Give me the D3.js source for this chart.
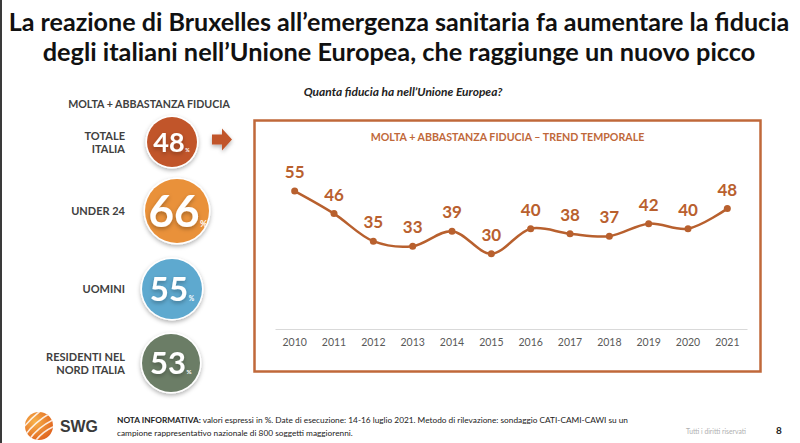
<!DOCTYPE html>
<html><head><meta charset="utf-8">
<script src="https://cdn.jsdelivr.net/npm/d3@7"></script>
<style>body{margin:0;background:#fff}svg{display:block}</style>
</head><body>
<svg id="c" width="800" height="443"></svg>
<script>
const years = ["2010","2011","2012","2013","2014","2015","2016","2017","2018","2019","2020","2021"];
const trust = [55,46,35,33,39,30,40,38,37,42,40,48];
const segments = [["TOTALE","ITALIA"],["UNDER 24"],["UOMINI"],["RESIDENTI NEL","NORD ITALIA"]];
const segValues = [48,66,55,53];
const segColors = ["#c1552a","#e9913a","#5ea9cf","#6b7d66"];
const titleLines = ["La reazione di Bruxelles all’emergenza sanitaria fa aumentare la fiducia","degli italiani nell’Unione Europea, che raggiunge un nuovo picco"];
const question = "Quanta fiducia ha nell’Unione Europea?";
const leftHeader = "MOLTA + ABBASTANZA FIDUCIA";
const chartTitle = "MOLTA + ABBASTANZA FIDUCIA – TREND TEMPORALE";
const noteBold = "NOTA INFORMATIVA:";
const noteLines = [" valori espressi in %. Date di esecuzione: 14-16 luglio 2021. Metodo di rilevazione: sondaggio CATI-CAMI-CAWI su un","campione rappresentativo nazionale di 800 soggetti maggiorenni."];

const F = "Lato, 'Open Sans', sans-serif";
const svg = d3.select("#c");
const defs = svg.append("defs");
const sh = defs.append("filter").attr("id","sh").attr("x","-30%").attr("y","-30%").attr("width","160%").attr("height","160%");
sh.append("feDropShadow").attr("dx",0).attr("dy",2).attr("stdDeviation",2).attr("flood-color","#000").attr("flood-opacity",0.3);

function fit(t, w){ const b=t.node().getComputedTextLength(); const fs=parseFloat(t.attr("font-size")); t.attr("font-size", fs*w/b); return t; }

// left dark edge
svg.append("rect").attr("x",0).attr("y",0).attr("width",2).attr("height",443).attr("fill","#3a3a3a");

// title
titleLines.forEach((s,i)=>{
  const t = svg.append("text").attr("x",399).attr("y",[31,61][i]).attr("text-anchor","middle")
    .attr("font-family",F).attr("font-weight",700).attr("font-size",24).attr("fill","#111").text(s);
  fit(t,[781,713][i]);
});

svg.append("text").attr("x",403).attr("y",96).attr("text-anchor","middle").attr("font-family",F)
  .attr("font-weight",700).attr("font-style","italic").attr("font-size",11).attr("fill","#222").text(question)
  .call(t=>fit(t,199));

svg.append("text").attr("x",149).attr("y",108).attr("text-anchor","middle").attr("font-family",F)
  .attr("font-weight",700).attr("font-size",11).attr("fill","#404040").text(leftHeader).call(t=>fit(t,162));

// bubbles
const bub = [{cx:172,cy:142,r:25,fs:27},{cx:177,cy:211,r:32,fs:44},{cx:172,cy:289,r:30,fs:33},{cx:171,cy:363,r:29,fs:31}];
segments.forEach((lines,i)=>{
  const b = bub[i];
  svg.append("circle").attr("cx",b.cx).attr("cy",b.cy).attr("r",b.r+1.5).attr("fill","#fff").attr("filter","url(#sh)");
  svg.append("circle").attr("cx",b.cx).attr("cy",b.cy).attr("r",b.r).attr("fill",segColors[i]);
  const t = svg.append("text").attr("x",b.cx-3).attr("y",b.cy+b.fs*0.36).attr("text-anchor","middle")
    .attr("font-family",F).attr("font-weight",700).attr("font-size",b.fs).attr("fill","#fff")
    .attr("filter","url(#sh)").text(segValues[i]);
  const w = t.node().getComputedTextLength();
  svg.append("text").attr("x",b.cx-3+w/2+0.5).attr("y",b.cy+b.fs*0.36).attr("font-family",F).attr("font-weight",700)
    .attr("font-size",Math.max(5,b.fs*0.2)).attr("fill","#fff").text("%");
  const n = lines.length;
  lines.forEach((s,j)=>{
    svg.append("text").attr("x",125).attr("y",b.cy+4-(n-1)*6.5+j*13.5).attr("text-anchor","end")
      .attr("font-family",F).attr("font-weight",700).attr("font-size",11).attr("fill","#404040").text(s);
  });
});

// arrow
svg.append("path").attr("d","M212,134.5 L222,134.5 L222,128.5 L232,139.5 L222,150.5 L222,144.5 L212,144.5 Z")
  .attr("fill","#c1552a").attr("filter","url(#sh)");

// box
svg.append("rect").attr("x",254.5).attr("y",120.5).attr("width",506).attr("height",251).attr("fill","#fff")
  .attr("stroke","#c0683a").attr("stroke-width",2.5);
svg.append("text").attr("x",507.5).attr("y",141).attr("text-anchor","middle").attr("font-family",F)
  .attr("font-weight",700).attr("font-size",11).attr("fill","#c0683a").text(chartTitle).call(t=>fit(t,274));

// chart
const x = d3.scaleBand().domain(years).range([275,747]).padding(0);
const y = d3.scaleLinear().domain([0,60]).range([329,178.5]);
const cx = d => x(d)+x.bandwidth()/2;
const axis = svg.append("g").attr("transform","translate(0,329)")
  .call(d3.axisBottom(x).tickSize(0).tickPadding(10));
axis.select(".domain").attr("stroke","#d9d9d9").attr("stroke-width",1);
axis.selectAll("text").attr("font-family",F).attr("font-size",10.5).attr("fill","#595959");

const pts = years.map((yr,i)=>[cx(yr), y(trust[i])]);
svg.append("path").attr("d", d3.line().curve(d3.curveCatmullRom.alpha(0.5))(pts))
  .attr("fill","none").attr("stroke","#b8602e").attr("stroke-width",2.5);
svg.selectAll(".dot").data(years).join("circle").attr("cx",cx).attr("cy",(d,i)=>y(trust[i])).attr("r",3.5).attr("fill","#b8602e");
svg.selectAll(".lbl").data(years).join("text").attr("x",cx).attr("y",(d,i)=>y(trust[i])-13)
  .attr("text-anchor","middle").attr("font-family",F).attr("font-weight",700).attr("font-size",17)
  .attr("fill","#b9602e").text((d,i)=>trust[i]);

// footer logo
const lg = defs.append("radialGradient").attr("id","lg").attr("cx","35%").attr("cy","35%").attr("r","75%");
lg.append("stop").attr("offset","0%").attr("stop-color","#f7b24a");
lg.append("stop").attr("offset","100%").attr("stop-color","#df5f1c");
defs.append("clipPath").attr("id","lc").append("circle").attr("cx",39).attr("cy",426).attr("r",14);
svg.append("circle").attr("cx",39).attr("cy",426).attr("r",14).attr("fill","url(#lg)");
const stripes = svg.append("g").attr("clip-path","url(#lc)");
[-8,-2,4,10].forEach(o=>{
  stripes.append("path").attr("d",`M${20+o},${448+o*0.2} Q${30+o},${425+o*0.3} ${58+o},${412+o}`)
    .attr("fill","none").attr("stroke","#fff").attr("stroke-width",1.6).attr("opacity",0.85);
});
svg.append("text").attr("x",60).attr("y",432).attr("font-family","'Liberation Sans', Arial, sans-serif").attr("font-weight",700)
  .attr("font-size",17).attr("fill","#3a3a3a").text("SWG").call(t=>fit(t,38));

const n1 = svg.append("text").attr("x",117).attr("y",423).attr("font-family",F).attr("font-size",8.5).attr("fill","#222");
n1.append("tspan").attr("font-weight",700).text(noteBold);
n1.append("tspan").text(noteLines[0]);
fit(n1,512);
svg.append("text").attr("x",117).attr("y",436).attr("font-family",F).attr("font-size",n1.attr("font-size")).attr("fill","#222").text(noteLines[1]);

svg.append("text").attr("x",686).attr("y",434).attr("font-family",F).attr("font-size",8.5).attr("fill","#b0b0b0").text("Tutti i diritti riservati").call(t=>fit(t,60));
svg.append("text").attr("x",779).attr("y",434).attr("text-anchor","middle").attr("font-family",F).attr("font-weight",700).attr("font-size",10).attr("fill","#222").text("8");
</script>
</body></html>
